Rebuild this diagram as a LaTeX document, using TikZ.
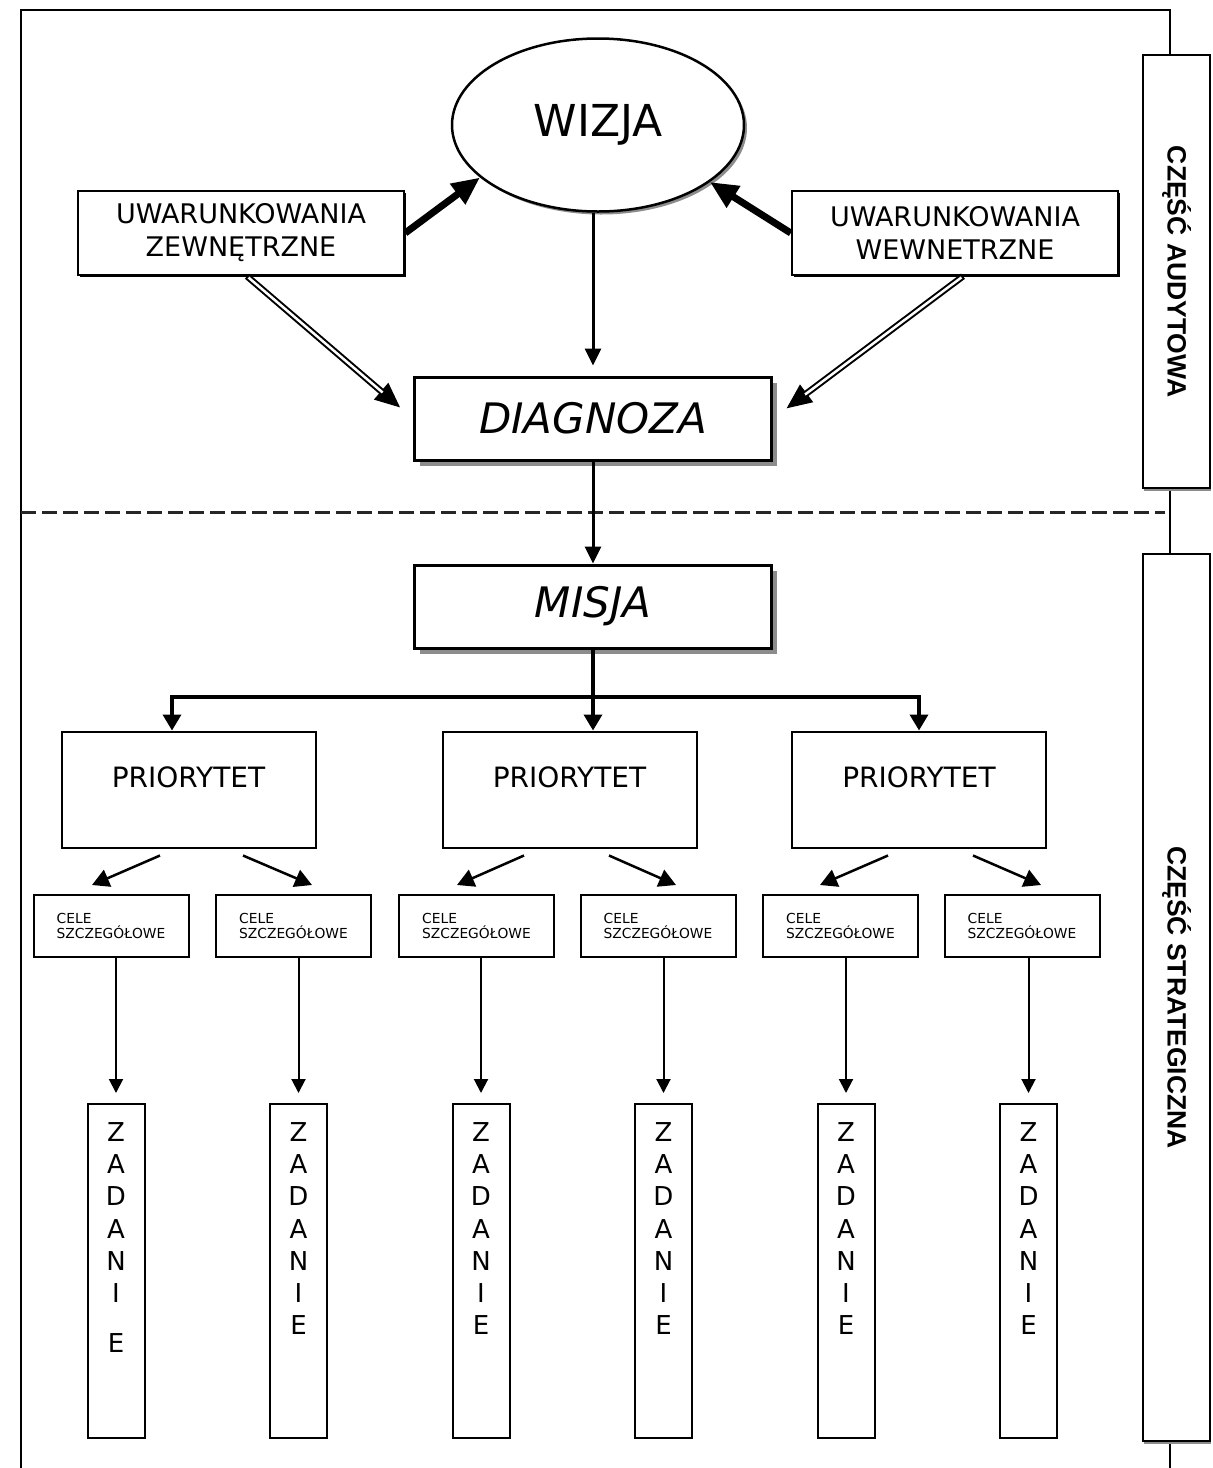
\documentclass[tikz,border=0pt]{standalone}
\usepackage{fontspec}
\setmainfont{DejaVu Sans}
\newfontfamily\sidefont{Liberation Sans}
\usepackage{tikz}
\definecolor{shadowgray}{rgb}{0.55, 0.55, 0.55}
\definecolor{dashgray}{rgb}{0.15, 0.15, 0.15}
\usetikzlibrary{arrows.meta,shapes.geometric,shadows}

\tikzset{
  frameline/.style={line width=2pt},
  dashline/.style={dashgray, line width=3pt, dash pattern=on 15pt off 6pt},
  uwbox/.style={draw, fill=white, line width=2.5pt, minimum width=326pt, minimum height=84pt,
    align=center, font=\fontsize{27}{33}\selectfont,
    drop shadow={shadow xshift=2pt, shadow yshift=-2pt, fill=black, opacity=1}},
  bigbox/.style={draw, fill=white, line width=3pt, minimum width=357pt, minimum height=83pt,
    font=\fontsize{42}{50}\selectfont\itshape,
    drop shadow={shadow xshift=5pt, shadow yshift=-6pt, fill=shadowgray, opacity=1}},
  priobox/.style={draw, line width=2pt, minimum width=254pt, minimum height=116pt,
    text depth=25pt, font=\fontsize{28}{34}\selectfont},
  celebox/.style={draw, line width=2pt, minimum width=155pt, minimum height=62pt,
    align=left, font=\fontsize{13.8}{15.5}\selectfont},
  zadbox/.style={draw, line width=2pt, minimum width=57pt, minimum height=334pt},
  zadtxt/.style={anchor=north, inner sep=0pt, align=center, font=\fontsize{26}{32.3}\selectfont},
  sidebox/.style={draw, fill=white, line width=2.5pt, minimum width=67pt,
    font=\sidefont\bfseries\fontsize{26.5}{30}\selectfont,
    drop shadow={shadow xshift=1pt, shadow yshift=-3pt, fill=shadowgray, opacity=1}},
  thickarr/.style={line width=7pt, -{Triangle[length=28pt,width=24pt]}},
  dblarr/.style={line width=6.5pt, shorten >=16pt, -{Triangle[length=26pt,width=20pt]}},
  dblgap/.style={white, line width=2.5pt, shorten >=40pt, shorten <=2pt},
  midarr/.style={line width=3pt, -{Triangle[length=17pt,width=16pt]}},
  bararr/.style={line width=3.5pt, -{Triangle[length=16pt,width=18pt]}},
  smallarr/.style={line width=2.5pt, -{Triangle[length=17pt,width=18pt]}},
  thinarr/.style={line width=2pt, shorten >=10pt, -{Triangle[length=14pt,width=14pt]}}
}

\begin{document}
\begin{tikzpicture}[x=1pt, y=-1pt]
            \useasboundingbox (0,0) rectangle (1213,1468);

            % frame
            \draw[frameline] (21,1468) -- (21,10) -- (1170,10) -- (1170,1468);
            \draw[dashline] (21,512) -- (1165,512);

            % side labels
            \node[sidebox, minimum height=433pt] (aud) at (1176.5,271.5) {\rotatebox{-90}{CZĘŚĆ AUDYTOWA}};
            \node[sidebox, minimum height=887pt] (str) at (1176.5,997.5) {\rotatebox{-90}{CZĘŚĆ STRATEGICZNA}};

            % audit part
            \node[draw, ellipse, fill=white, line width=2.5pt, minimum width=292pt, minimum height=173pt,
              inner sep=0pt, font=\fontsize{44}{50}\selectfont,
              drop shadow={shadow xshift=3pt, shadow yshift=-3pt, fill=shadowgray, opacity=1}] (wiz) at (598,125) {WIZJA};
            \node[uwbox] (zew) at (241,233) {UWARUNKOWANIA\\ZEWNĘTRZNE};
            \node[uwbox] (wew) at (955,233) {UWARUNKOWANIA\\WEWNETRZNE};
            \node[bigbox] (diag) at (593,418.5) {DIAGNOZA};

            % strategic part
            \node[bigbox] (mis) at (593,606.5) {MISJA};
            \node[priobox] (p1) at (188.5,789.5) {PRIORYTET};
            \node[priobox] (p2) at (569.5,789.5) {PRIORYTET};
            \node[priobox] (p3) at (919,789.5) {PRIORYTET};

            \node[celebox] (c1) at (111,926) {CELE\\SZCZEGÓŁOWE};
            \node[celebox] (c2) at (293.5,926) {CELE\\SZCZEGÓŁOWE};
            \node[celebox] (c3) at (476.5,926) {CELE\\SZCZEGÓŁOWE};
            \node[celebox] (c4) at (658,926) {CELE\\SZCZEGÓŁOWE};
            \node[celebox] (c5) at (840.5,926) {CELE\\SZCZEGÓŁOWE};
            \node[celebox] (c6) at (1022,926) {CELE\\SZCZEGÓŁOWE};

            \node[zadbox] (z1) at (116,1271) {};
            \node[zadbox] (z2) at (298.5,1271) {};
            \node[zadbox] (z3) at (481,1271) {};
            \node[zadbox] (z4) at (663.5,1271) {};
            \node[zadbox] (z5) at (846,1271) {};
            \node[zadbox] (z6) at (1028.5,1271) {};
            \node[zadtxt] (z1t) at ([yshift=-19pt]z1.north) {Z\\A\\D\\A\\N\\I\\[18pt]E};
            \node[zadtxt] (z2t) at ([yshift=-19pt]z2.north) {Z\\A\\D\\A\\N\\I\\E};
            \node[zadtxt] (z3t) at ([yshift=-19pt]z3.north) {Z\\A\\D\\A\\N\\I\\E};
            \node[zadtxt] (z4t) at ([yshift=-19pt]z4.north) {Z\\A\\D\\A\\N\\I\\E};
            \node[zadtxt] (z5t) at ([yshift=-19pt]z5.north) {Z\\A\\D\\A\\N\\I\\E};
            \node[zadtxt] (z6t) at ([yshift=-19pt]z6.north) {Z\\A\\D\\A\\N\\I\\E};

            % arrows to wizja and diagnoza
            \draw[thickarr] (zew.east) -- (wiz.204);
            \draw[thickarr] (wew.west) -- (wiz.333);
            \draw[midarr, shorten >=10pt] (wiz.south -| diag.north) -- (diag.north);
            \draw[dblarr] ([xshift=6pt]zew.south) -- (diag.west);
            \draw[dblgap] ([xshift=6pt]zew.south) -- (diag.west);
            \draw[dblarr] ([xshift=8pt]wew.south) -- (diag.east);
            \draw[dblgap] ([xshift=8pt]wew.south) -- (diag.east);
            \draw[midarr] (diag.south) -- (mis.north);

            % misja to priorities
            \coordinate (split) at (593,697);
            \draw[line width=3.5pt] (mis.south) -- (split);
            \draw[bararr] (split) -| ([xshift=-16.5pt]p1.north);
            \draw[bararr] (split) -- (split |- p2.north);
            \draw[bararr] (split) -| (p3.north);

            % priorities to cele
            \draw[smallarr] ([xshift=-28.5pt,yshift=-7pt]p1.south) -- ([xshift=-19pt,yshift=9pt]c1.north);
            \draw[smallarr] ([xshift=54.5pt,yshift=-7pt]p1.south) -- ([xshift=18.5pt,yshift=9pt]c2.north);
            \draw[smallarr] ([xshift=-45.5pt,yshift=-7pt]p2.south) -- ([xshift=-19.5pt,yshift=9pt]c3.north);
            \draw[smallarr] ([xshift=39.5pt,yshift=-7pt]p2.south) -- ([xshift=18pt,yshift=9pt]c4.north);
            \draw[smallarr] ([xshift=-31pt,yshift=-7pt]p3.south) -- ([xshift=-20.5pt,yshift=9pt]c5.north);
            \draw[smallarr] ([xshift=54pt,yshift=-7pt]p3.south) -- ([xshift=19pt,yshift=9pt]c6.north);

            % cele to zadania
            \draw[thinarr] (c1.south -| z1.north) -- (z1.north);
            \draw[thinarr] (c2.south -| z2.north) -- (z2.north);
            \draw[thinarr] (c3.south -| z3.north) -- (z3.north);
            \draw[thinarr] (c4.south -| z4.north) -- (z4.north);
            \draw[thinarr] (c5.south -| z5.north) -- (z5.north);
            \draw[thinarr] (c6.south -| z6.north) -- (z6.north);

\end{tikzpicture}
\end{document}
